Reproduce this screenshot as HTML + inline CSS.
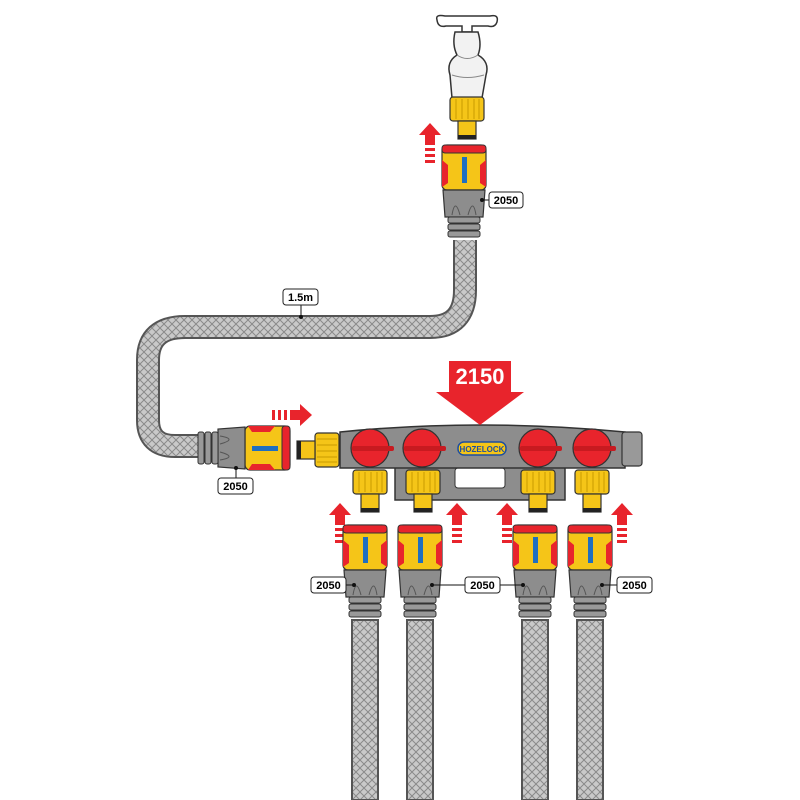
<!DOCTYPE html>
<html><head><meta charset="utf-8"><style>body{margin:0;background:#fff}svg{display:block}</style></head>
<body>
<svg width="800" height="800" viewBox="0 0 800 800" xmlns="http://www.w3.org/2000/svg" font-family="Liberation Sans, sans-serif">
<defs>
<pattern id="mesh" width="8" height="8" patternUnits="userSpaceOnUse">
<rect width="8" height="8" fill="#c9c9c9"/>
<path d="M0 0L8 8M8 0L0 8" stroke="#8a8a8a" stroke-width="1"/>
</pattern>
<g id="conn">
<rect x="-22" y="0" width="44" height="45" rx="5" fill="#f5c518" stroke="#333" stroke-width="1.2"/>
<rect x="-22" y="0" width="44" height="8" rx="3" fill="#e8242c" stroke="#333" stroke-width="1"/>
<path d="M-22 15 L-16 20 L-16 38 L-22 42Z M22 15 L16 20 L16 38 L22 42Z" fill="#e8242c"/>
<rect x="-2" y="12" width="5" height="26" fill="#1e6fc0"/>
<path d="M-21 45 L21 45 L19 72 L-19 72Z" fill="#8d8d8d" stroke="#333" stroke-width="1.2"/>
<path d="M-12 70 Q-9 52 -4 70 M4 70 Q9 52 12 70" stroke="#555" fill="none"/>
<g fill="#999" stroke="#333" stroke-width="1">
<rect x="-16" y="72" width="32" height="6" rx="2"/><rect x="-16" y="79" width="32" height="6" rx="2"/><rect x="-16" y="86" width="32" height="6" rx="2"/></g>
</g>
<g id="up">
<path d="M-11 12 L0 0 L11 12 L5 12 L5 22 L-5 22 L-5 12Z" fill="#e8242c"/>
<rect x="-5" y="25" width="10" height="3" fill="#e8242c"/><rect x="-5" y="31" width="10" height="3" fill="#e8242c"/><rect x="-5" y="37" width="10" height="3" fill="#e8242c"/>
</g>
<g id="nut">
<rect x="-17" y="0" width="34" height="24" rx="3" fill="#f5c518" stroke="#333" stroke-width="1.2"/>
<path d="M-11 2V22M-5 2V22M1 2V22M7 2V22M12 2V22" stroke="#c99a00"/>
<rect x="-9" y="24" width="18" height="18" fill="#f5c518" stroke="#333" stroke-width="1.2"/>
<rect x="-9" y="38" width="18" height="4" fill="#222"/>
</g>
</defs>

<!-- hoses -->
<path d="M465 240 V290 Q465 327 430 327 H185 Q148 327 148 360 V420 Q148 446 175 446 H200" fill="none" stroke="#555" stroke-width="24"/>
<path d="M465 240 V290 Q465 327 430 327 H185 Q148 327 148 360 V420 Q148 446 175 446 H200" fill="none" stroke="url(#mesh)" stroke-width="20"/>
<g>
<rect x="352" y="620" width="26" height="180" fill="url(#mesh)" stroke="#555" stroke-width="2"/>
<rect x="407" y="620" width="26" height="180" fill="url(#mesh)" stroke="#555" stroke-width="2"/>
<rect x="522" y="620" width="26" height="180" fill="url(#mesh)" stroke="#555" stroke-width="2"/>
<rect x="577" y="620" width="26" height="180" fill="url(#mesh)" stroke="#555" stroke-width="2"/>
</g>

<!-- tap -->
<path d="M437 20 Q435 14 445 16 L490 16 Q499 14 497 22 Q495 28 488 26 L472 26 L472 32 L462 32 L462 26 L446 26 Q438 28 437 20Z" fill="#fff" stroke="#333" stroke-width="1.5"/>
<path d="M455 32 H478 Q482 45 478 55 Q490 62 486 75 L482 98 H452 L450 75 Q446 62 457 55 Q452 45 455 32Z" fill="#f2f2f2" stroke="#333" stroke-width="1.5"/>
<path d="M457 55 Q467 62 478 55 M452 75 Q467 80 484 75" stroke="#888" fill="none"/>
<g transform="translate(467,97)"><use href="#nut"/></g>

<use href="#up" x="430" y="123"/>
<use href="#conn" x="464" y="145"/>
<circle cx="482" cy="200" r="2" fill="#111"/><line x1="482" y1="200" x2="489" y2="200" stroke="#111"/>
<rect x="489" y="192" width="34" height="16" rx="3" fill="#fff" stroke="#222"/>
<text x="506" y="204" font-size="11" font-weight="bold" text-anchor="middle">2050</text>

<!-- 1.5m label -->
<line x1="301" y1="305" x2="301" y2="316" stroke="#111"/><circle cx="301" cy="317" r="2" fill="#111"/>
<rect x="283" y="289" width="35" height="16" rx="3" fill="#fff" stroke="#222"/>
<text x="300.5" y="301" font-size="11" font-weight="bold" text-anchor="middle">1.5m</text>

<!-- left horizontal connector -->
<g transform="translate(290,448) rotate(90)"><use href="#conn"/></g>
<circle cx="236" cy="468" r="2" fill="#111"/><line x1="236" y1="468" x2="236" y2="478" stroke="#111"/>
<rect x="218" y="478" width="35" height="16" rx="3" fill="#fff" stroke="#222"/>
<text x="235.5" y="490" font-size="11" font-weight="bold" text-anchor="middle">2050</text>

<!-- right arrow -->
<g transform="translate(312,415) rotate(90)"><use href="#up"/></g>

<!-- inlet -->
<g transform="translate(339,450) rotate(90)"><use href="#nut"/></g>

<!-- manifold -->
<path d="M395 465 H565 V500 H395Z" fill="#8d8d8d" stroke="#333" stroke-width="1.5"/>
<rect x="455" y="468" width="50" height="20" rx="3" fill="#fff" stroke="#333"/>
<path d="M340 432 Q480 418 625 432 V468 H340Z" fill="#8d8d8d" stroke="#333" stroke-width="1.5"/>
<rect x="622" y="432" width="20" height="34" rx="3" fill="#999" stroke="#333" stroke-width="1.2"/>
<g fill="#e8242c" stroke="#333" stroke-width="1.2">
<circle cx="370" cy="448" r="19"/><circle cx="422" cy="448" r="19"/><circle cx="538" cy="448" r="19"/><circle cx="592" cy="448" r="19"/>
</g>
<g fill="#c81a20"><rect x="352" y="446" width="42" height="5" rx="2"/><rect x="404" y="446" width="42" height="5" rx="2"/><rect x="520" y="446" width="42" height="5" rx="2"/><rect x="574" y="446" width="42" height="5" rx="2"/></g>
<rect x="458" y="442" width="48" height="13" rx="6" fill="#f5c518" stroke="#1e4fa0" stroke-width="1.5"/>
<text x="482" y="452" font-size="8" font-weight="bold" fill="#1e4fa0" text-anchor="middle">HOZELOCK</text>

<!-- 2150 arrow -->
<path d="M449 361 H511 V392 H524 L480 425 L436 392 H449Z" fill="#e8242c"/>
<text x="480" y="384" font-size="22" font-weight="bold" fill="#fff" text-anchor="middle">2150</text>

<!-- outlets -->
<use href="#nut" x="370" y="470"/><use href="#nut" x="423" y="470"/><use href="#nut" x="538" y="470"/><use href="#nut" x="592" y="470"/>
<use href="#up" x="340" y="503"/><use href="#up" x="457" y="503"/><use href="#up" x="507" y="503"/><use href="#up" x="622" y="503"/>
<use href="#conn" x="365" y="525"/><use href="#conn" x="420" y="525"/><use href="#conn" x="535" y="525"/><use href="#conn" x="590" y="525"/>

<g stroke="#111">
<line x1="346" y1="585" x2="354" y2="585"/><line x1="432" y1="585" x2="465" y2="585"/><line x1="500" y1="585" x2="523" y2="585"/><line x1="602" y1="585" x2="617" y2="585"/></g>
<g fill="#111"><circle cx="354" cy="585" r="2"/><circle cx="432" cy="585" r="2"/><circle cx="523" cy="585" r="2"/><circle cx="602" cy="585" r="2"/></g>
<g fill="#fff" stroke="#222"><rect x="311" y="577" width="35" height="16" rx="3"/><rect x="465" y="577" width="35" height="16" rx="3"/><rect x="617" y="577" width="35" height="16" rx="3"/></g>
<g font-size="11" font-weight="bold" text-anchor="middle"><text x="328.5" y="589">2050</text><text x="482.5" y="589">2050</text><text x="634.5" y="589">2050</text></g>
</svg>
</body></html>
